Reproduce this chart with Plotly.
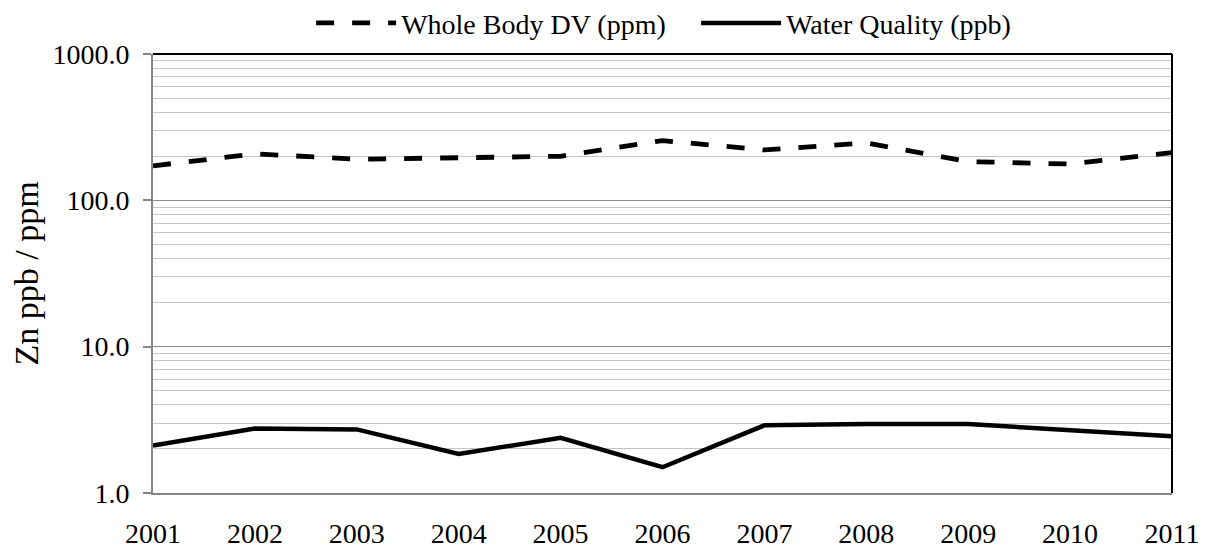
import plotly.graph_objects as go

years = [2001, 2002, 2003, 2004, 2005, 2006, 2007, 2008, 2009, 2010, 2011]
whole_body_dv = [172, 208, 191, 195, 200, 256, 221, 247, 184, 177, 212]
water_quality = [2.11, 2.76, 2.72, 1.85, 2.38, 1.5, 2.9, 2.96, 2.96, 2.7, 2.44]

series_names = ["Whole Body DV (ppm)", "Water Quality (ppb)"]
y_title = "Zn ppb / ppm"

FONT = "Liberation Serif"

fig = go.Figure()
fig.add_trace(go.Scatter(
    x=years, y=whole_body_dv, mode="lines", name=series_names[0],
    line=dict(color="black", width=4.8, dash="18px,18px"),
))
fig.add_trace(go.Scatter(
    x=years, y=water_quality, mode="lines", name=series_names[1],
    line=dict(color="black", width=4.5),
))

# page body has an 8px margin, so the figure is 8px smaller and margins shifted
fig.update_layout(
    width=1203, height=540,
    margin=dict(l=145, r=39, t=46, b=55, autoexpand=False),
    paper_bgcolor="white", plot_bgcolor="white",
    font=dict(family=FONT, size=28, color="black"),
    showlegend=True,
    legend=dict(orientation="h", x=0.533, xanchor="center", y=1.07, yanchor="middle",
                font=dict(size=28, family=FONT), itemwidth=80, bgcolor="rgba(0,0,0,0)",
                traceorder="normal", entrywidth=290),
    xaxis=dict(
        range=[2001, 2011], tickmode="array", tickvals=years,
        ticktext=[str(y) for y in years], automargin=False,
        showgrid=False, zeroline=False, showline=True, linecolor="#868686", linewidth=2,
        ticks="", ticklabelstandoff=14, tickfont=dict(size=28, family=FONT),
    ),
    yaxis=dict(
        type="log", range=[0, 3], dtick=1, tickformat=".1f", automargin=False,
        showgrid=True, gridcolor="#8c8c8c", gridwidth=1.2,
        showline=True, linecolor="#868686", linewidth=2,
        ticks="outside", ticklen=8, tickcolor="#868686", tickwidth=1.5,
        ticklabelstandoff=8, tickfont=dict(size=28, family=FONT),
        minor=dict(dtick="D1", showgrid=True, gridcolor="#c6c6c6", gridwidth=1.2, ticks=""),
        zeroline=False,
    ),
    annotations=[dict(
        text=y_title, xref="paper", yref="paper", x=-0.1237, y=0.5,
        xanchor="center", yanchor="middle", textangle=-90, showarrow=False,
        font=dict(size=34, family=FONT, color="black"),
    )],
    shapes=[
        dict(type="line", xref="paper", yref="paper", x0=0, x1=1, y0=1, y1=1,
             line=dict(color="black", width=2)),
        dict(type="line", xref="paper", yref="paper", x0=1, x1=1, y0=0, y1=1,
             line=dict(color="black", width=2)),
    ],
)

fig.write_html("out.html")
